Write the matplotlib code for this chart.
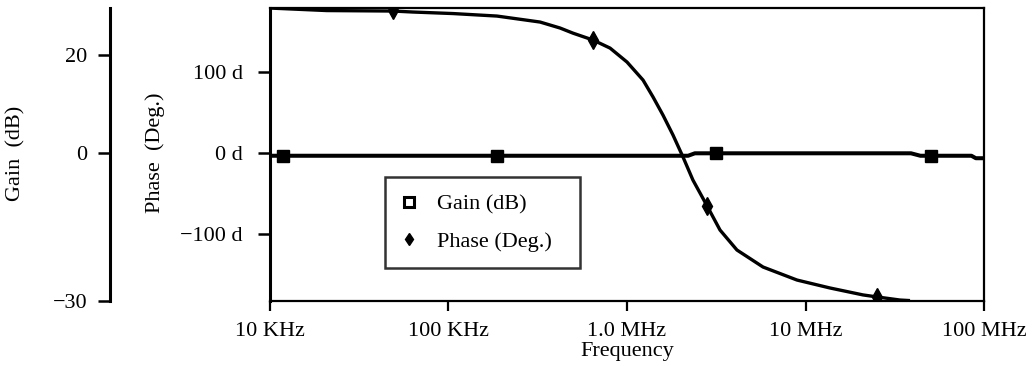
import matplotlib
matplotlib.use("Agg")
import matplotlib.pyplot as plt
from matplotlib.lines import Line2D
from matplotlib.ticker import FixedLocator, FixedFormatter, NullLocator

# ---------------- data ----------------
phase_freq = [1e4, 2.08e4, 4.9e4, 6.3e4, 1.06e5, 1.87e5, 3.26e5, 4.22e5, 4.98e5,
              6.45e5, 8.04e5, 1.0e6, 1.23e6, 1.40e6, 1.59e6, 1.81e6, 2.06e6,
              2.34e6, 2.81e6, 3.32e6, 4.13e6, 5.78e6, 8.96e6, 1.37e7, 2.10e7,
              2.52e7, 3.38e7, 3.85e7]
phase_deg = [179.5, 176.4, 175.8, 174.6, 172.7, 169.6, 162.2, 154.8, 148.5,
             140, 130, 112.8, 90.5, 69.5, 47.3, 22.6, -4.6,
             -33, -65, -94.8, -119.5, -140.5, -156.6, -166.4, -175,
             -177.5, -181.3, -182]
phase_mk_freq = [4.9e4, 6.45e5, 2.81e6, 2.52e7]
phase_mk_deg = [177, 140, -65, -177.5]

gain_freq = [1e4, 2.2e6, 2.4e6, 3.9e7, 4.4e7, 8.5e7, 9.0e7, 1e8]
gain_db = [-0.5, -0.5, 0.0, 0.0, -0.5, -0.5, -1.0, -1.0]
gain_mk_freq = [1.18e4, 1.86e5, 3.16e6, 5.05e7]
gain_mk_db = [-0.5, -0.5, 0.0, -0.5]

x_ticks = [1e4, 1e5, 1e6, 1e7, 1e8]
x_labels = ["10 KHz", "100 KHz", "1.0 MHz", "10 MHz", "100 MHz"]
phase_ticks = [100, 0, -100]
phase_labels = ["100 d", "0 d", "\u2212100 d"]
gain_ticks = [20, 0, -30]
gain_labels = ["20", "0", "\u221230"]

# ---------------- style ----------------
plt.rcParams['font.family'] = ['Liberation Serif', 'DejaVu Serif']
FS = 16

fig = plt.figure(figsize=(10.32, 3.66), dpi=100)
ax = fig.add_axes([0.2616, 0.1776, 0.6919, 0.8004])
ax2 = ax.twinx()

# phase on main axes
ax.plot(phase_freq, phase_deg, color='black', lw=2.4, solid_capstyle='butt', zorder=3)
ax.plot(phase_mk_freq, phase_mk_deg, linestyle='none', marker='d', ms=9,
        color='black', zorder=4)
ax.set_xscale('log')
ax.set_xlim(1e4, 1e8)
ax.set_ylim(-182.5, 179.5)

ax.xaxis.set_major_locator(FixedLocator(x_ticks))
ax.xaxis.set_major_formatter(FixedFormatter(x_labels))
ax.xaxis.set_minor_locator(NullLocator())
ax.yaxis.set_major_locator(FixedLocator(phase_ticks))
ax.yaxis.set_major_formatter(FixedFormatter(phase_labels))
ax.yaxis.set_minor_locator(NullLocator())
ax.tick_params(axis='x', direction='out', length=7.5, width=1.6, pad=7.5, labelsize=FS)
ax.tick_params(axis='y', direction='out', length=8.5, width=1.8, pad=11, labelsize=FS)

for s in ['top', 'right', 'bottom']:
    ax.spines[s].set_linewidth(1.6)
ax.spines['left'].set_linewidth(2.2)

ax.set_xlabel("Frequency", fontsize=FS, labelpad=1)
ax.set_ylabel("Phase  (Deg.)", fontsize=FS)
ax.yaxis.set_label_coords(-0.147, 0.505)

# gain on twin axes with left spine offset
ax2.plot(gain_freq, gain_db, color='black', lw=2.9, zorder=3)
ax2.plot(gain_mk_freq, gain_mk_db, linestyle='none', marker='s', ms=9,
         color='black', zorder=4)
ax2.set_ylim(-30, 29.5)
ax2.yaxis.set_ticks_position('left')
ax2.yaxis.set_label_position('left')
ax2.spines['left'].set_position(('outward', 115.2))
ax2.spines['left'].set_linewidth(2.2)
for s in ['top', 'right', 'bottom']:
    ax2.spines[s].set_visible(False)
ax2.yaxis.set_major_locator(FixedLocator(gain_ticks))
ax2.yaxis.set_major_formatter(FixedFormatter(gain_labels))
ax2.yaxis.set_minor_locator(NullLocator())
ax2.tick_params(axis='y', direction='out', length=8.5, width=1.8, pad=8, labelsize=FS)
ax2.set_ylabel("Gain  (dB)", fontsize=FS)
ax2.yaxis.set_label_coords(-0.343, 0.505)

# legend
handles = [
    Line2D([], [], linestyle='none', marker='s', ms=6.5, mfc='white', mec='black', mew=2.2),
    Line2D([], [], linestyle='none', marker='d', ms=6, color='black'),
]
leg = ax2.legend(handles, ["Gain (dB)", "Phase (Deg.)"], loc='upper left',
                 bbox_to_anchor=(0.161, 0.113, 0.273, 0.31), mode='expand',
                 fontsize=FS, frameon=True,
                 fancybox=False, edgecolor='black', borderpad=0.75,
                 handletextpad=0.9, labelspacing=0.75, borderaxespad=0,
                 handlelength=0.7)
leg.get_frame().set_linewidth(1.8)

fig.savefig("out.png", dpi=100)
